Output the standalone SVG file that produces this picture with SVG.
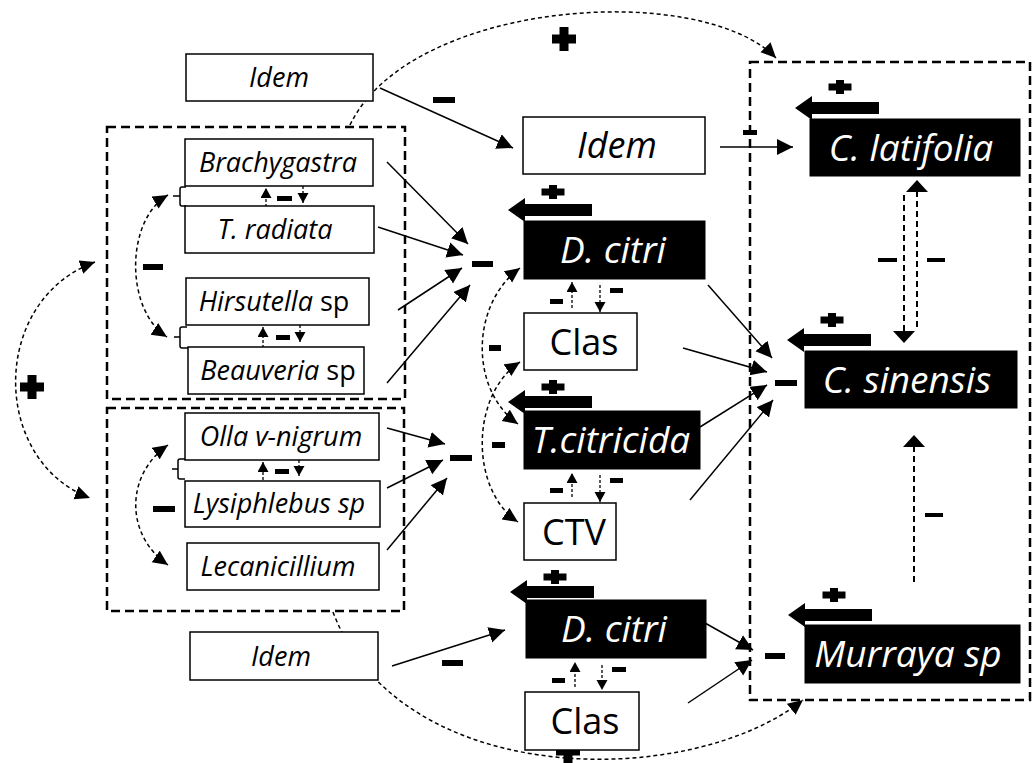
<svg xmlns="http://www.w3.org/2000/svg" width="1032" height="763" viewBox="0 0 1032 763">
<style>
.bw{fill:#fff;stroke:#000;stroke-width:1.5}
.bb{fill:#000;stroke:#000;stroke-width:1}
.tl{font-family:"Open Sans","DejaVu Sans",sans-serif;font-size:27px;font-style:italic;fill:#000;text-anchor:middle}
.tm{font-family:"Open Sans","DejaVu Sans",sans-serif;font-size:36px;fill:#000;text-anchor:middle}
.tw{font-family:"Open Sans","DejaVu Sans",sans-serif;font-size:37px;font-style:italic;fill:#fff;text-anchor:middle}
.n{font-style:normal}
.it{font-style:italic}
.grp{fill:none;stroke:#000;stroke-width:2.5;stroke-dasharray:9,5}
.sl{fill:none;stroke:#000;stroke-width:1.5;marker-end:url(#ah)}
.da{fill:none;stroke:#000;stroke-width:1.5;stroke-dasharray:4,3}
.dv{fill:none;stroke:#000;stroke-width:2;stroke-dasharray:6,4;marker-end:url(#am)}
.sm{fill:none;stroke:#000;stroke-width:1.3;stroke-dasharray:3,2;marker-end:url(#as)}
.br{fill:none;stroke:#000;stroke-width:1.5}
</style>
<defs>
<marker id="ah" markerUnits="userSpaceOnUse" markerWidth="18" markerHeight="18" refX="16" refY="8" orient="auto"><path d="M0,0 L16,8 L0,16 Z"/></marker>
<marker id="ad" markerUnits="userSpaceOnUse" markerWidth="16" markerHeight="16" refX="15" refY="7" orient="auto-start-reverse"><path d="M0,0 L15,7 L0,14 Z"/></marker>
<marker id="am" markerUnits="userSpaceOnUse" markerWidth="16" markerHeight="24" refX="12" refY="11" orient="auto"><path d="M0,0 L12,11 L0,22 Z"/></marker>
<marker id="as" markerUnits="userSpaceOnUse" markerWidth="12" markerHeight="12" refX="10" refY="5.5" orient="auto"><path d="M0,0 L10,5.5 L0,11 Z"/></marker>
<path id="fat" d="M0,0 L17,-12 V-6 H84 V6 H17 V12 Z"/>
<path id="plusS" d="M-4,-7 h8 v3.5 h7.5 v7 h-7.5 v3.5 h-8 v-3.5 h-7.5 v-7 h7.5 z"/>
<path id="plusB" d="M-4.5,-12 h9 v7.5 h7.5 v9 h-7.5 v7.5 h-9 v-7.5 h-7.5 v-9 h7.5 z"/>
</defs>
<rect width="1032" height="763" fill="#fff"/>

<g id="groups">
<rect class="grp" x="107" y="127" width="298" height="272"/>
<rect class="grp" x="107" y="408" width="297" height="203"/>
<rect class="grp" x="750" y="62" width="280" height="638"/>
</g>

<g id="connectors">
<path class="da" d="M350,125 C410,0 700,-20 776,58" marker-end="url(#ad)"/>
<path class="da" d="M95,262 C-10,300 -10,460 90,498" marker-start="url(#ad)" marker-end="url(#ad)"/>
<path class="da" d="M333,612 C400,790 690,790 803,700" marker-end="url(#ad)"/>
<path class="da" d="M168,195 C125,220 125,310 167,337" marker-start="url(#ad)" marker-end="url(#ad)"/>
<path class="da" d="M168,445 C125,475 125,535 168,565" marker-start="url(#ad)" marker-end="url(#ad)"/>
<path class="da" d="M518,424 C470,390 470,305 520,268" marker-start="url(#ad)" marker-end="url(#ad)"/>
<path class="da" d="M520,362 C470,395 470,490 518,522" marker-start="url(#ad)" marker-end="url(#ad)"/>

<line class="sl" x1="380" y1="88" x2="513" y2="148"/>
<line class="sl" x1="720" y1="147" x2="793" y2="147"/>
<line class="sl" x1="387" y1="162" x2="468" y2="244"/>
<line class="sl" x1="378" y1="227" x2="463" y2="255"/>
<line class="sl" x1="398" y1="310" x2="462" y2="268"/>
<line class="sl" x1="387" y1="383" x2="470" y2="285"/>
<line class="sl" x1="387" y1="428" x2="445" y2="444"/>
<line class="sl" x1="387" y1="488" x2="443" y2="460"/>
<line class="sl" x1="387" y1="550" x2="447" y2="478"/>
<line class="sl" x1="708" y1="285" x2="772" y2="358"/>
<line class="sl" x1="683" y1="348" x2="767" y2="372"/>
<line class="sl" x1="700" y1="427" x2="767" y2="385"/>
<line class="sl" x1="690" y1="500" x2="773" y2="400"/>
<line class="sl" x1="705" y1="623" x2="753" y2="650"/>
<line class="sl" x1="688" y1="703" x2="752" y2="660"/>
<line class="sl" x1="392" y1="666" x2="505" y2="630"/>

<line class="dv" x1="904" y1="195" x2="904" y2="343"/>
<line class="dv" x1="917" y1="327" x2="917" y2="180"/>
<line class="dv" x1="914" y1="582" x2="914" y2="435"/>

<line class="sm" x1="572" y1="308" x2="572" y2="282"/>
<line class="sm" x1="600" y1="285" x2="600" y2="312"/>
<line class="sm" x1="572" y1="497" x2="572" y2="473"/>
<line class="sm" x1="600" y1="475" x2="600" y2="502"/>
<line class="sm" x1="575" y1="687" x2="575" y2="662"/>
<line class="sm" x1="602" y1="665" x2="602" y2="690"/>
<line class="sm" x1="266" y1="207" x2="266" y2="188"/>
<line class="sm" x1="303" y1="186" x2="303" y2="203"/>
<line class="sm" x1="263" y1="348" x2="263" y2="327"/>
<line class="sm" x1="300" y1="325" x2="300" y2="342"/>
<line class="sm" x1="263" y1="480" x2="263" y2="462"/>
<line class="sm" x1="299" y1="460" x2="299" y2="476"/>

<path class="br" d="M186,187 H182 Q180,187 180,189 V204 Q180,206 182,206 H186 M173,196 H180"/>
<path class="br" d="M187,327 H182 Q180,327 180,329 V346 Q180,348 182,348 H188 M174,337 H180"/>
<path class="br" d="M185,459 H180 Q178,459 178,461 V477 Q178,479 180,479 H185 M172,469 H178"/>
</g>

<g id="signs">
<use href="#fat" x="508" y="210"/>
<use href="#fat" x="508" y="402"/>
<use href="#fat" x="510" y="592"/>
<use href="#fat" x="795" y="108"/>
<use href="#fat" x="787" y="340"/>
<use href="#fat" x="788" y="615"/>
<use href="#plusS" x="553" y="192"/>
<use href="#plusS" x="553" y="387"/>
<use href="#plusS" x="555" y="577"/>
<use href="#plusS" x="840" y="87"/>
<use href="#plusS" x="832" y="320"/>
<use href="#plusS" x="834" y="595"/>
<use href="#plusB" x="564" y="39"/>
<use href="#plusB" x="32" y="387"/>
<use href="#plusB" x="568" y="751"/>
<rect x="433" y="97" width="22" height="6"/>
<rect x="743" y="130" width="14" height="5"/>
<rect x="472" y="261" width="21" height="6"/>
<rect x="450" y="455" width="22" height="6"/>
<rect x="489" y="345" width="12" height="6"/>
<rect x="492" y="442" width="13" height="6"/>
<rect x="550" y="299" width="13" height="5"/>
<rect x="610" y="288" width="13" height="5"/>
<rect x="550" y="488" width="13" height="5"/>
<rect x="610" y="478" width="13" height="5"/>
<rect x="552" y="678" width="13" height="5"/>
<rect x="612" y="667" width="14" height="5"/>
<rect x="442" y="660" width="21" height="6"/>
<rect x="775" y="380" width="22" height="6"/>
<rect x="765" y="653" width="20" height="6"/>
<rect x="878" y="258" width="19" height="4"/>
<rect x="927" y="258" width="18" height="4"/>
<rect x="925" y="513" width="18" height="4"/>
<rect x="143" y="264" width="20" height="6"/>
<rect x="277" y="196" width="15" height="5"/>
<rect x="276" y="335" width="14" height="5"/>
<rect x="153" y="506" width="22" height="6"/>
<rect x="275" y="469" width="14" height="5"/>
</g>

<g id="idem-top"><rect class="bw" x="186" y="54" width="187" height="47"/><text class="tl" x="279" y="87">Idem</text></g>
<g id="brachygastra"><rect class="bw" x="185" y="139" width="188" height="47"/><text class="tl" x="278" y="172">Brachygastra</text></g>
<g id="t-radiata"><rect class="bw" x="185" y="206" width="189" height="47"/><text class="tl" x="275" y="239">T. radiata</text></g>
<g id="hirsutella"><rect class="bw" x="186" y="278" width="183" height="47"/><text class="tl" x="274" y="311">Hirsutella<tspan class="n"> sp</tspan></text></g>
<g id="beauveria"><rect class="bw" x="188" y="347" width="176" height="47"/><text class="tl" x="278" y="380">Beauveria<tspan class="n"> sp</tspan></text></g>
<g id="olla"><rect class="bw" x="185" y="413" width="194" height="47"/><text class="tl" x="281" y="446">Olla v-nigrum</text></g>
<g id="lysiphlebus"><rect class="bw" x="185" y="481" width="195" height="46"/><text class="tl" x="279" y="513">Lysiphlebus sp</text></g>
<g id="lecanicillium"><rect class="bw" x="187" y="543" width="192" height="47"/><text class="tl" x="278" y="576">Lecanicillium</text></g>
<g id="idem-bottom"><rect class="bw" x="190" y="632" width="188" height="48"/><text class="tl" x="281" y="666">Idem</text></g>

<g id="idem-mid"><rect class="bw" x="523" y="117" width="182" height="57"/><text class="tm it" x="617" y="158">Idem</text></g>
<g id="d-citri-1"><rect class="bb" x="524" y="221" width="181" height="58"/><text class="tw" x="613" y="263">D. citri</text></g>
<g id="clas-1"><rect class="bw" x="524" y="313" width="113" height="57"/><text class="tm" x="584" y="355">Clas</text></g>
<g id="t-citricida"><rect class="bb" x="524" y="411" width="176" height="58"/><text class="tw" x="611" y="453">T.citricida</text></g>
<g id="ctv"><rect class="bw" x="524" y="503" width="92" height="57"/><text class="tm" x="574" y="545">CTV</text></g>
<g id="d-citri-2"><rect class="bb" x="526" y="600" width="180" height="58"/><text class="tw" x="614" y="642">D. citri</text></g>
<g id="clas-2"><rect class="bw" x="525" y="692" width="114" height="58"/><text class="tm" x="585" y="734">Clas</text></g>

<g id="c-latifolia"><rect class="bb" x="810" y="119" width="210" height="57"/><text class="tw" x="911" y="161">C. latifolia</text></g>
<g id="c-sinensis"><rect class="bb" x="805" y="351" width="212" height="57"/><text class="tw" x="907" y="393">C. sinensis</text></g>
<g id="murraya"><rect class="bb" x="805" y="625" width="215" height="58"/><text class="tw" x="908" y="667">Murraya sp</text></g>
</svg>
